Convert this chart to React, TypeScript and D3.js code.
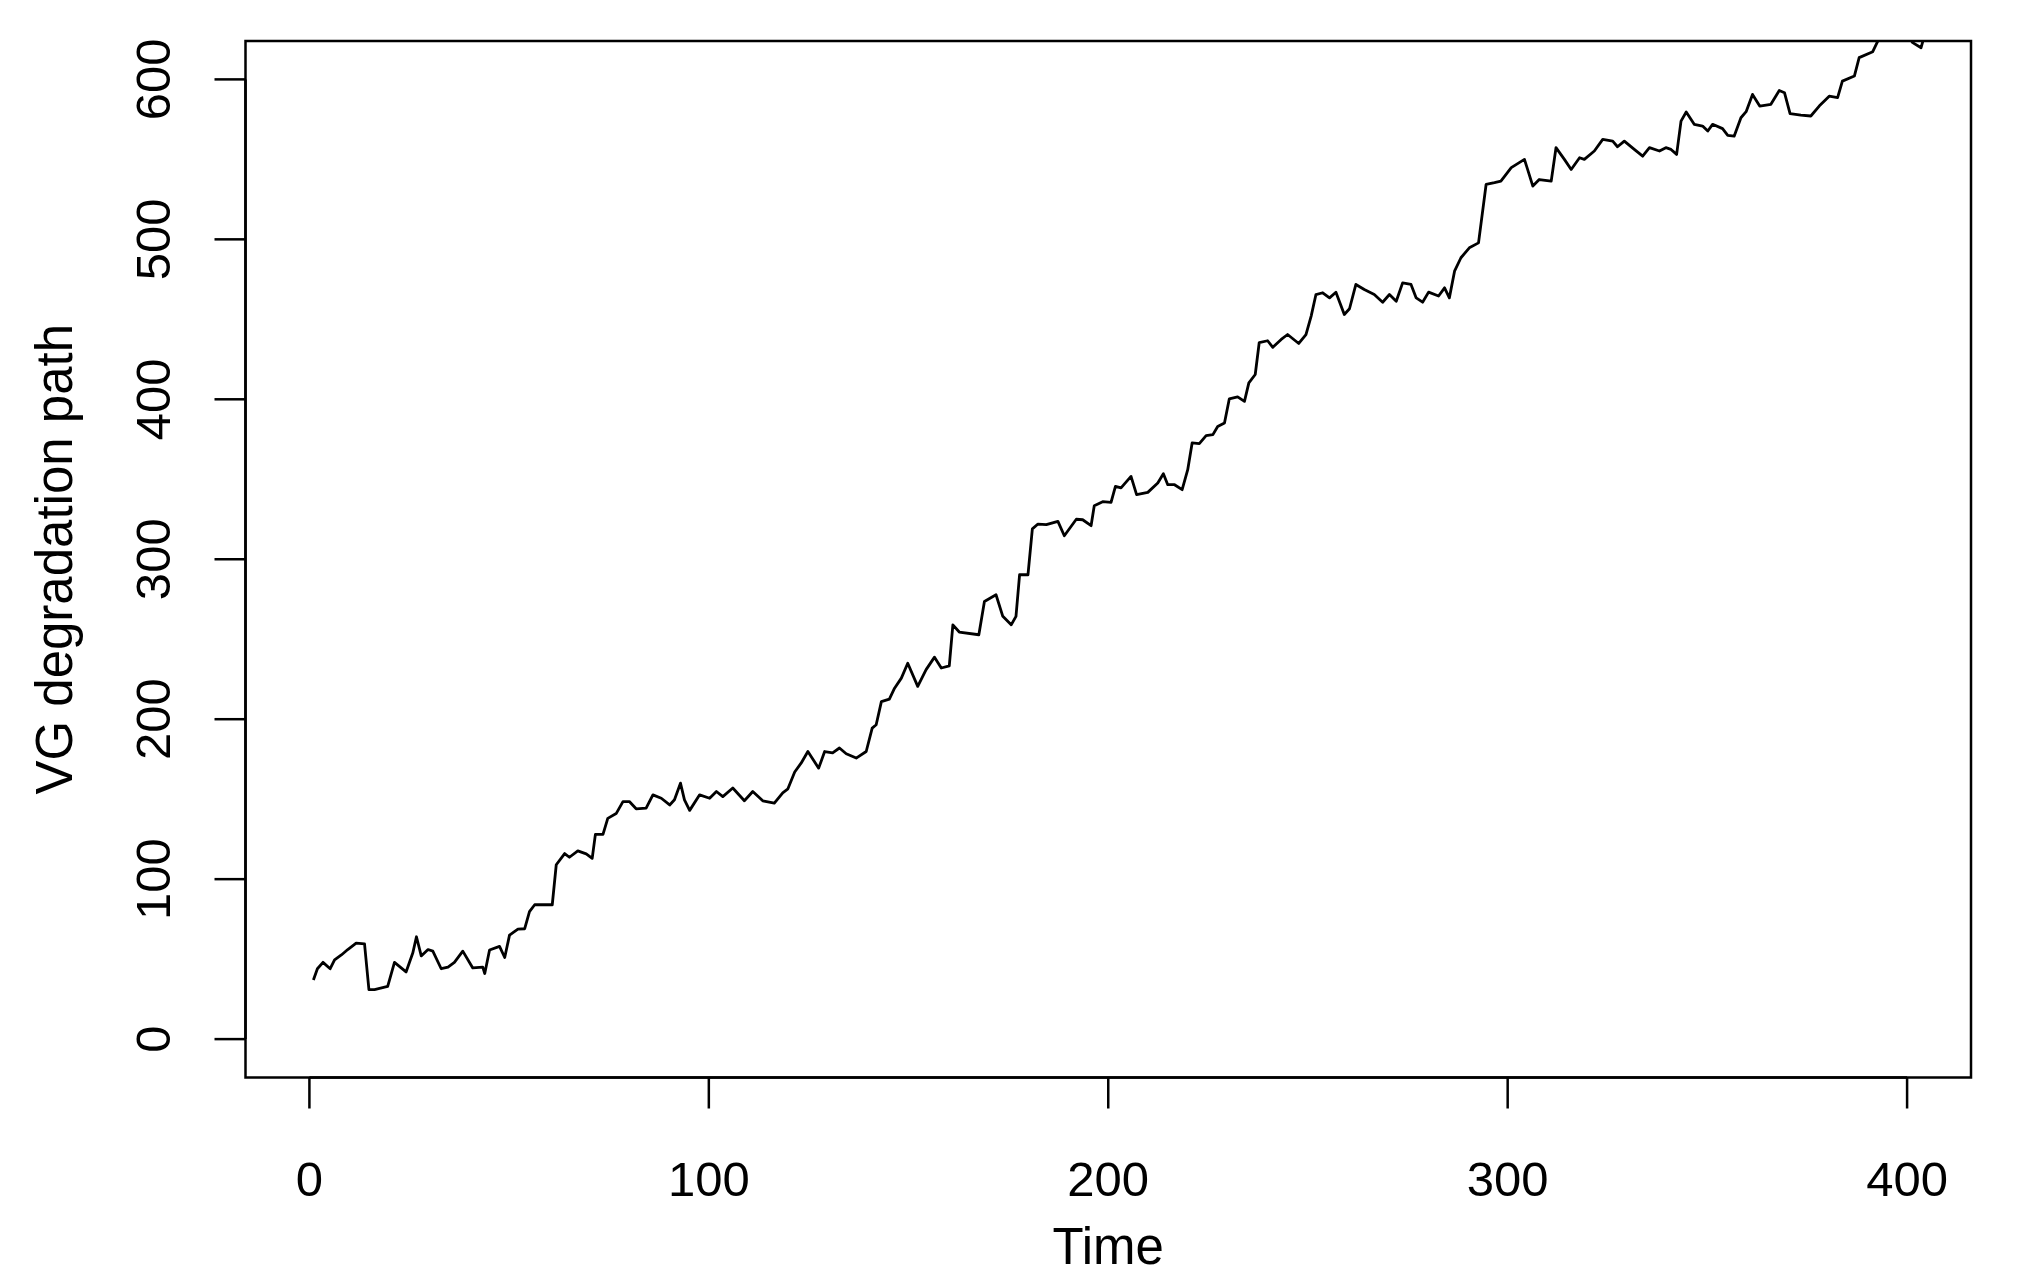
import React, { useEffect } from "react";
import * as d3 from "d3";

// Time values
const times: number[] = [
  1, 2, 3.4, 5.2, 6.3, 8, 9.6, 11.7, 13.8, 14.9, 16.3, 19.6, 21.3, 24.2, 25.9, 26.8, 28, 29.7, 30.9, 33,
  34.7, 36.3, 38.4, 40.9, 43.4, 43.9, 45.1, 47.6, 48.9, 50.1, 52.2, 53.9, 55.1, 56.4, 60.8, 61.8, 63.9, 65.1, 67.2, 69.3,
  70.8, 71.6, 73.5, 74.7, 76.8, 78.5, 80.1, 81.8, 84.3, 86, 88.1, 90.2, 91.4, 92.9, 93.9, 95.2, 97.7, 100.2, 101.9, 103.5,
  106, 108.9, 111, 113.5, 116.4, 118.5, 119.8, 121.5, 123.1, 124.8, 127.5, 129, 131, 132.7, 134.4, 136.9, 139.4, 140.9, 141.9, 143.2,
  145.2, 146.5, 148.2, 149.8, 152.3, 154.4, 156.5, 158.2, 160.2, 161.1, 162.7, 167.6, 169, 171.9, 173.6, 175.7, 176.9, 177.8, 179.9, 181,
  182.4, 184.5, 187.4, 189, 192, 193.6, 195.7, 196.5, 198.6, 200.7, 201.8, 203.2, 205.7, 207.1, 209.9, 212.4, 213.8, 214.9, 216.6, 218.5,
  219.9, 221, 222.8, 224.5, 226.2, 227.4, 229.1, 230.3, 232.4, 234.1, 235.2, 236.8, 237.8, 239.9, 241.2, 243.3, 244.9, 247.7, 249.5, 250.8,
  252, 253.7, 255.4, 257, 259.1, 260.4, 262, 264.1, 266.6, 268.7, 270.4, 272.1, 273.7, 275.8, 277.1, 278.7, 280.2, 282.7, 284.2, 285.4,
  286.7, 288.3, 290.4, 292.7, 294.6, 296.7, 298.3, 300.9, 304.2, 306.3, 307.9, 310.9, 312.1, 314.2, 315.9, 318, 319.2, 321.7, 323.8, 326.3,
  327.5, 329.2, 331.7, 333.8, 335.5, 338, 339.6, 340.9, 342.3, 343.4, 344.7, 346.7, 348.8, 350.1, 351.3, 353.8, 355.1, 356.7, 358.4, 359.7,
  361.3, 363.1, 365.9, 368, 369.3, 370.7, 373.4, 375.9, 378, 380.5, 382.6, 383.8, 386.8, 388, 391.4, 392.6, 395, 398, 400, 401.4,
  403.5, 404.3,
];

// VG degradation path values
const values: number[] = [
  37, 44, 48, 44, 49.5, 52.6, 56, 60, 59.5, 31, 31, 33, 48, 42, 54, 64, 52, 56, 55, 44,
  45, 48, 55, 44.5, 45, 41, 55.7, 58, 51, 65, 68.7, 69, 79.7, 84, 84, 109, 116, 113.7, 117.7, 115.8,
  113, 128, 128, 138, 141, 148.5, 148.5, 144, 144.4, 152.7, 150.6, 146.4, 149.6, 160, 149.6, 143, 152.7, 150.6, 154.8, 151.6,
  157, 149, 154.8, 149, 147.5, 154, 156.5, 167, 172.5, 179.8, 169.4, 179.8, 179, 182, 178.4, 175.7, 179.8, 194.4, 196.5, 211,
  212.6, 219.4, 225.7, 235, 220.5, 231, 238.8, 232, 233.4, 259, 254.5, 252.8, 273.6, 277.8, 264.3, 259, 264.3, 290.3, 290.3, 319,
  322, 321.6, 323.7, 314.7, 325, 324.7, 321, 333.5, 336, 335.5, 345.6, 344.6, 351.8, 340.4, 341.8, 347.7, 353.5, 346.6, 346.6, 343.5,
  356, 372.7, 372.3, 377.3, 377.9, 383, 385.2, 400.2, 401.5, 398.7, 410.3, 415.5, 435.5, 436.6, 432.5, 437.4, 440.5, 434.9, 440.5, 452,
  465.5, 466.6, 463.4, 466.9, 453, 456.6, 471.8, 468.6, 465.5, 460.7, 465.5, 461.3, 472.8, 471.8, 463.4, 460.7, 467, 464.6, 469.7, 463.4,
  480.1, 488.5, 494.7, 497.8, 534.3, 535.4, 536.4, 544.8, 550, 533.3, 537.4, 536.4, 557.3, 550, 543.7, 551, 550, 555.2, 562.5, 561.4,
  557.9, 561.4, 556.2, 552, 557.3, 555.2, 557.3, 556.2, 553.1, 573.9, 579.6, 571.9, 570.8, 567.7, 571.9, 569.2, 565, 564.5, 576, 579.8,
  590.6, 583.3, 584.4, 593.1, 591.7, 578.6, 577.7, 577.1, 583.3, 589.5, 588.6, 598.9, 602.1, 613.6, 617.3, 623.6, 632, 635, 628, 623,
  619.8, 627,
];

const xTicks: number[] = [0, 100, 200, 300, 400];
const yTicks: number[] = [0, 100, 200, 300, 400, 500, 600];
const xLabel = "Time";
const yLabel = "VG degradation path";

const W = 2024;
const H = 1282;
const left = 245.5;
const right = 1971;
const top = 41;
const bottom = 1077.5;
const FONT = "'Liberation Sans', Arial, Helvetica, sans-serif";
const FS = 49;
const FS_TITLE = 51;

export default function App() {
  useEffect(() => {
    document.body.style.margin = "0";
  }, []);

  const x = d3.scaleLinear().domain([-16, 416]).range([left, right]);
  const y = d3.scaleLinear().domain([-24, 624]).range([bottom, top]);

  const pts: [number, number][] = times.map((t, i) => [t, values[i]]);
  const line = d3
    .line<[number, number]>()
    .x((d) => x(d[0]))
    .y((d) => y(d[1]));

  const tickLen = 31;

  return (
    <svg width={W} height={H} style={{ display: "block", background: "#fff" }}>
      <defs>
        <clipPath id="plotclip">
          <rect x={left} y={top} width={right - left} height={bottom - top} />
        </clipPath>
      </defs>
      <rect x={0} y={0} width={W} height={H} fill="#fff" />
      <path
        d={line(pts) || ""}
        fill="none"
        stroke="#000"
        strokeWidth={2.8}
        strokeLinejoin="round"
        clipPath="url(#plotclip)"
      />
      <rect
        x={left}
        y={top}
        width={right - left}
        height={bottom - top}
        fill="none"
        stroke="#000"
        strokeWidth={2.5}
      />
      {/* x axis */}
      <line x1={x(xTicks[0])} x2={x(xTicks[xTicks.length - 1])} y1={bottom} y2={bottom} stroke="#000" strokeWidth={2.5} />
      {xTicks.map((t) => (
        <g key={"xt" + t}>
          <line x1={x(t)} x2={x(t)} y1={bottom} y2={bottom + tickLen} stroke="#000" strokeWidth={2.5} />
          <text x={x(t)} y={1196} textAnchor="middle" fontFamily={FONT} fontSize={FS} fill="#000">
            {t}
          </text>
        </g>
      ))}
      {/* y axis */}
      <line x1={left} x2={left} y1={y(yTicks[0])} y2={y(yTicks[yTicks.length - 1])} stroke="#000" strokeWidth={2.5} />
      {yTicks.map((t) => (
        <g key={"yt" + t}>
          <line x1={left} x2={left - tickLen} y1={y(t)} y2={y(t)} stroke="#000" strokeWidth={2.5} />
          <text
            transform={`translate(170, ${y(t)}) rotate(-90)`}
            textAnchor="middle"
            fontFamily={FONT}
            fontSize={FS}
            fill="#000"
          >
            {t}
          </text>
        </g>
      ))}
      <text x={(left + right) / 2} y={1264} textAnchor="middle" fontFamily={FONT} fontSize={FS_TITLE} fill="#000">
        {xLabel}
      </text>
      <text
        transform={`translate(72, ${(top + bottom) / 2}) rotate(-90)`}
        textAnchor="middle"
        fontFamily={FONT}
        fontSize={FS_TITLE}
        fill="#000"
      >
        {yLabel}
      </text>
    </svg>
  );
}
